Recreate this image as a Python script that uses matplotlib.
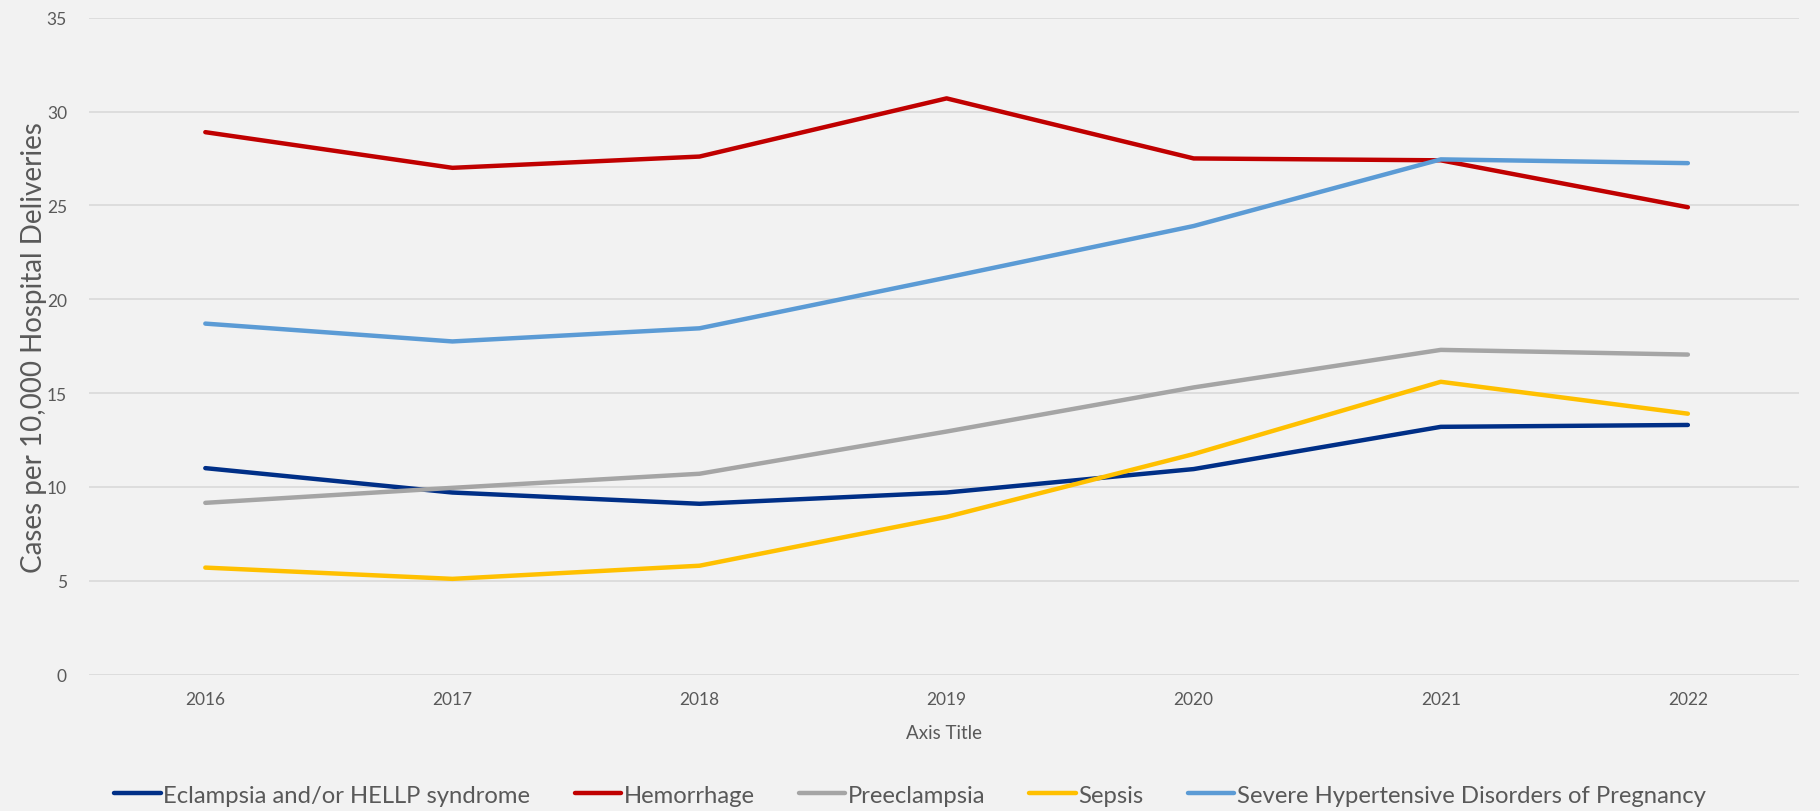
import matplotlib
matplotlib.use("Agg")
import matplotlib.pyplot as plt

# valores
years = ["2016", "2017", "2018", "2019", "2020", "2021", "2022"]
eclampsia = [11.0, 9.7, 9.1, 9.7, 10.95, 13.2, 13.3]
hemorrhage = [28.9, 27.0, 27.6, 30.7, 27.5, 27.4, 24.9]
preeclampsia = [9.15, 9.95, 10.7, 12.95, 15.3, 17.3, 17.05]
sepsis = [5.7, 5.1, 5.8, 8.4, 11.75, 15.6, 13.9]
severe = [18.7, 17.75, 18.45, 21.15, 23.9, 27.45, 27.25]

series = [
    ("Eclampsia and/or HELLP syndrome", eclampsia, "#002F87"),
    ("Hemorrhage", hemorrhage, "#C00000"),
    ("Preeclampsia", preeclampsia, "#A5A5A5"),
    ("Sepsis", sepsis, "#FFC000"),
    ("Severe Hypertensive Disorders of Pregnancy", severe, "#5B9BD5"),
]

plt.rcParams['font.family'] = ['Lato', 'DejaVu Sans']
txt = "#595959"


def main():
    fig = plt.figure(figsize=(18.2, 8.12), dpi=100)
    fig.patch.set_facecolor("#F2F2F2")
    ax = fig.add_axes([0.049, 0.168, 0.9395, 0.809])
    ax.set_facecolor("#F2F2F2")

    x = list(range(len(years)))
    for nombre, valores, color in series:
        ax.plot(x, valores, color=color, lw=3.2, label=nombre,
                solid_capstyle="round", zorder=3)

    ax.set_xlim(-0.47, 6.45)
    ax.set_ylim(0, 35)
    ax.set_yticks(range(0, 36, 5))
    ax.set_xticks(x)
    ax.set_xticklabels(years)
    ax.grid(axis="y", color="#D9D9D9", lw=1.2, zorder=0)
    for s in ax.spines.values():
        s.set_visible(False)
    ax.tick_params(length=0, labelsize=12.5, colors=txt, pad=12)
    ax.tick_params(axis="y", pad=16)

    ax.set_ylabel("Cases per 10,000 Hospital Deliveries", fontsize=20, color=txt, labelpad=0)
    ax.set_xlabel("Axis Title", fontsize=13.5, color=txt, labelpad=12)

    fig.legend(loc="lower center", bbox_to_anchor=(0.5, -0.02), ncol=5,
               frameon=False, fontsize=17.2, labelcolor=txt, handlelength=1.95,
               handletextpad=0.1, columnspacing=1.85)

    plt.savefig("out.png", facecolor=fig.get_facecolor())


if __name__ == "__main__":
    main()
